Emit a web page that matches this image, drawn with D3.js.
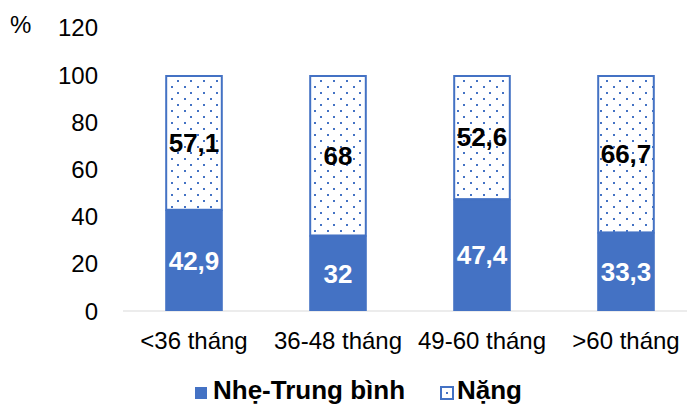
<!doctype html>
<meta charset="utf-8">
<title>Mức độ theo nhóm tuổi</title>
<style>
  body { margin: 0; background: #fff; }
  svg { font-family: "Liberation Sans", Arial, sans-serif; }
</style>
<svg id="chart" width="687" height="404"></svg>
<script src="https://cdn.jsdelivr.net/npm/d3@7"></script>
<script>

var categories = ["<36 tháng", "36-48 tháng", "49-60 tháng", ">60 tháng"];
var mild = [42.9, 32, 47.4, 33.3];
var severe = [57.1, 68, 52.6, 66.7];
var yTicks = [0, 20, 40, 60, 80, 100, 120];
var seriesNames = ["Nhẹ-Trung bình", "Nặng"];

var blue = "#4472C4";
var svg = d3.select("#chart");

var x = d3.scaleBand().domain(categories).range([122, 698]).paddingInner(0.6).paddingOuter(0.3);
var y = d3.scaleLinear().domain([0, 120]).range([311, 27.8]);

// dotted fill for the second series
var pat = svg.append("defs").append("pattern")
  .attr("id", "dots")
  .attr("patternUnits", "userSpaceOnUse")
  .attr("width", 13).attr("height", 12);
pat.append("rect").attr("width", 13).attr("height", 12).attr("fill", "#fff");
pat.append("rect").attr("x", 2).attr("y", 2).attr("width", 2).attr("height", 2).attr("fill", blue);
pat.append("rect").attr("x", 8).attr("y", 8).attr("width", 2).attr("height", 2).attr("fill", blue);

// y axis labels
svg.append("g").selectAll("text")
  .data(yTicks).enter().append("text")
  .attr("x", 98)
  .attr("y", function(d) { return y(d); })
  .attr("dy", "0.36em")
  .attr("text-anchor", "end")
  .attr("font-size", 24)
  .attr("fill", "#000")
  .text(function(d) { return d; });

svg.append("text")
  .attr("x", 10).attr("y", y(120) - 3)
  .attr("dy", "0.36em")
  .attr("font-size", 24)
  .text("%");

// baseline
svg.append("line")
  .attr("x1", 123).attr("x2", 687)
  .attr("y1", y(0)).attr("y2", y(0))
  .attr("stroke", "#d9d9d9").attr("stroke-width", 1);

var rows = categories.map(function(c, i) { return {cat: c, a: mild[i], b: severe[i]}; });

// bottom segments
svg.append("g").selectAll("rect")
  .data(rows).enter().append("rect")
  .attr("x", function(d) { return x(d.cat); })
  .attr("width", x.bandwidth())
  .attr("y", function(d) { return y(d.a); })
  .attr("height", function(d) { return y(0) - y(d.a); })
  .attr("fill", blue);

// top segments
svg.append("g").selectAll("rect")
  .data(rows).enter().append("rect")
  .attr("x", function(d) { return x(d.cat) + 1; })
  .attr("width", x.bandwidth() - 2)
  .attr("y", function(d) { return y(d.a + d.b) + 1; })
  .attr("height", function(d) { return y(d.a) - y(d.a + d.b) - 1; })
  .attr("fill", "url(#dots)")
  .attr("stroke", blue)
  .attr("stroke-width", 2);

// value labels
function fmt(v) { return String(v).replace(".", ","); }

svg.append("g").selectAll("text")
  .data(rows).enter().append("text")
  .attr("x", function(d) { return x(d.cat) + x.bandwidth() / 2; })
  .attr("y", function(d) { return y(d.a / 2); })
  .attr("dy", "0.36em")
  .attr("text-anchor", "middle")
  .attr("font-size", 26).attr("font-weight", "bold")
  .attr("fill", "#fff")
  .text(function(d) { return fmt(d.a); });

svg.append("g").selectAll("text")
  .data(rows).enter().append("text")
  .attr("x", function(d) { return x(d.cat) + x.bandwidth() / 2; })
  .attr("y", function(d) { return y(d.a + d.b / 2); })
  .attr("dy", "0.36em")
  .attr("text-anchor", "middle")
  .attr("font-size", 26).attr("font-weight", "bold")
  .attr("fill", "#000")
  .text(function(d) { return fmt(d.b); });

// category labels
svg.append("g").selectAll("text")
  .data(categories).enter().append("text")
  .attr("x", function(d) { return x(d) + x.bandwidth() / 2; })
  .attr("y", 340)
  .attr("dy", "0.36em")
  .attr("text-anchor", "middle")
  .attr("font-size", 24)
  .text(function(d) { return d; });

// legend
var legend = svg.append("g");
legend.append("rect")
  .attr("x", 195).attr("y", 387).attr("width", 12).attr("height", 12)
  .attr("fill", blue);
legend.append("text")
  .attr("x", 213).attr("y", 399)
  .attr("font-size", 26).attr("font-weight", "bold")
  .text(seriesNames[0]);
legend.append("rect")
  .attr("x", 441).attr("y", 387).attr("width", 12).attr("height", 12)
  .attr("fill", "#fff").attr("stroke", blue).attr("stroke-width", 2);
legend.append("rect")
  .attr("x", 446).attr("y", 392).attr("width", 2).attr("height", 2)
  .attr("fill", blue);
legend.append("text")
  .attr("x", 457).attr("y", 399)
  .attr("font-size", 26).attr("font-weight", "bold")
  .text(seriesNames[1]);

</script>
